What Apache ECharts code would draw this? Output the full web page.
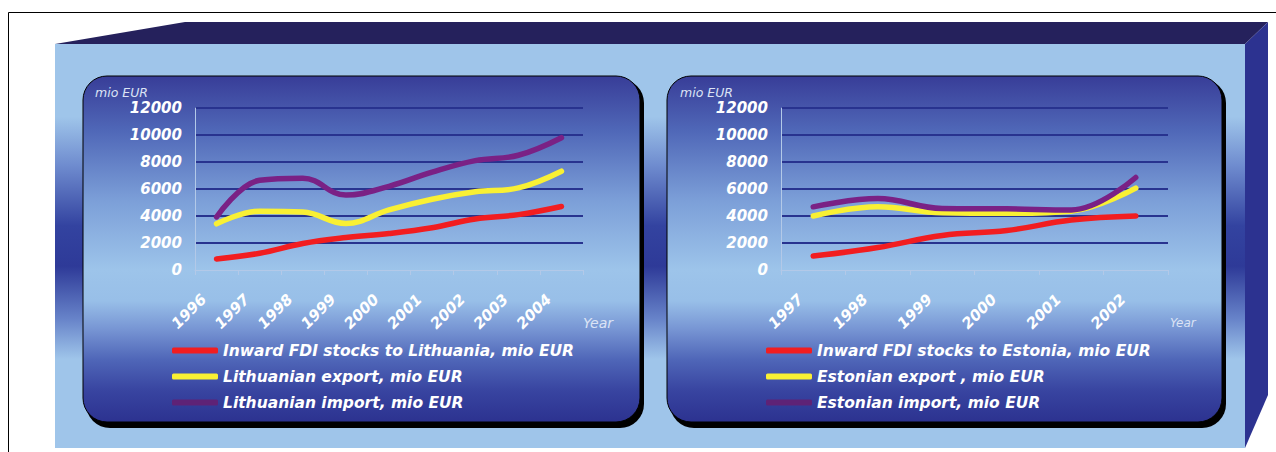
<!DOCTYPE html>
<html><head><meta charset="utf-8">
<script src="https://cdn.jsdelivr.net/npm/echarts@6/dist/echarts.min.js"></script>
<style>html,body{margin:0;padding:0;background:#fff}#c{width:1276px;height:452px}</style>
</head><body><div id="c"></div>
<script>
// ---- data (mio EUR) ----
const ltYears = ['1996','1997','1998','1999','2000','2001','2002','2003','2004'];
const ltFdi    = [820, 1240, 1960, 2400, 2700, 3130, 3780, 4100, 4700];
const ltExport = [3420, 4360, 4300, 3440, 4450, 5240, 5790, 6080, 7320];
const ltImport = [3930, 6650, 6800, 5550, 6200, 7250, 8100, 8500, 9800];
const eeYears = ['1997','1998','1999','2000','2001','2002'];
const eeFdi    = [1030, 1660, 2560, 2920, 3700, 4000];
const eeExport = [4000, 4680, 4240, 4200, 4360, 6060];
const eeImport = [4680, 5290, 4560, 4530, 4450, 6850];
const ltNames = ['Inward FDI stocks to Lithuania, mio EUR', 'Lithuanian export, mio EUR', 'Lithuanian import, mio EUR'];
const eeNames = ['Inward FDI stocks to Estonia, mio EUR', 'Estonian export , mio EUR', 'Estonian import, mio EUR'];
const yUnit = 'mio EUR';
const xUnit = 'Year';
const yMin = 0, yMax = 12000, yStep = 2000;

// ---- styles ----
const FONT = 'DejaVu Sans';
const lineColors = ['#f21d20', '#f9f034', '#7a2185'];
const legendColors = ['#f21d20', '#f9f034', '#5e2276'];
const gridColor = '#28338f';
const axisLight = '#b3c9e8';

const chart = echarts.init(document.getElementById('c'), null, {renderer: 'svg'});

function panelFill() {
  return new echarts.graphic.LinearGradient(0, 0, 0, 1, [
    {offset: 0, color: '#383d98'},
    {offset: 0.16, color: '#5068b8'},
    {offset: 0.36, color: '#7c9fd8'},
    {offset: 0.56, color: '#9dc4ea'},
    {offset: 0.65, color: '#98bfe8'},
    {offset: 0.73, color: '#7896d4'},
    {offset: 0.82, color: '#4f66b8'},
    {offset: 0.91, color: '#3844a0'},
    {offset: 1, color: '#2c3290'}
  ]);
}
function frontFill() {
  return new echarts.graphic.LinearGradient(0, 0, 0, 1, [
    {offset: 0, color: '#9fc5ea'},
    {offset: 0.18, color: '#9fc5ea'},
    {offset: 0.30, color: '#6f8ccf'},
    {offset: 0.45, color: '#3343a0'},
    {offset: 0.55, color: '#2e3a98'},
    {offset: 0.68, color: '#6783c9'},
    {offset: 0.78, color: '#9fc5ea'},
    {offset: 1, color: '#9fc5ea'}
  ]);
}

function xAxis(gi, data) {
  return {
    type: 'category', gridIndex: gi, data: data, boundaryGap: true,
    axisLine: {show: true, lineStyle: {color: axisLight, width: 1}},
    axisTick: {show: true, length: 5, lineStyle: {color: axisLight}},
    axisLabel: {interval: 0, rotate: 45, margin: 14, padding: [0, 18, 0, 0],
      color: '#ffffff', fontSize: 15, fontWeight: 'bold', fontStyle: 'italic', fontFamily: FONT},
    splitLine: {show: false}
  };
}
function yAxis(gi) {
  return {
    type: 'value', gridIndex: gi, min: yMin, max: yMax, interval: yStep,
    axisLine: {show: true, lineStyle: {color: axisLight, width: 1}},
    axisTick: {show: false},
    axisLabel: {margin: 13, color: '#ffffff', fontSize: 15, fontWeight: 'bold', fontStyle: 'italic', fontFamily: FONT,
      formatter: v => String(v)},
    splitLine: {show: true, lineStyle: {width: 2,
      color: ['rgba(0,0,0,0)', gridColor, gridColor, gridColor, gridColor, gridColor, gridColor]}}
  };
}
function legend(left, names) {
  return {
    left: left, top: 338, padding: 0, orient: 'vertical', itemWidth: 46, itemHeight: 6, itemGap: 1,
    icon: 'roundRect', selectedMode: false,
    textStyle: {color: '#ffffff', fontSize: 15.5, fontWeight: 'bold', fontStyle: 'italic', fontFamily: FONT, lineHeight: 25},
    data: names.map((n, i) => ({name: n, itemStyle: {color: legendColors[i]}}))
  };
}
function line(name, xi, data, ci) {
  return {
    name: name, type: 'line', xAxisIndex: xi, yAxisIndex: xi, data: data,
    smooth: 0.4, symbol: 'none', showSymbol: false,
    lineStyle: {color: lineColors[ci], width: 5.5, cap: 'round', join: 'round'},
    itemStyle: {color: lineColors[ci]}, emphasis: {disabled: true}, animation: false
  };
}
function label(x, y, text, size) {
  return {type: 'text', x: x, y: y, z: 10,
    style: {text: text, fill: '#dbe3f5', fontSize: size, fontStyle: 'italic', fontFamily: FONT,
      align: 'left', verticalAlign: 'middle'}};
}

const option = {
  backgroundColor: '#ffffff',
  animation: false,
  graphic: [
    {type: 'polygon', z: -20, shape: {points: [[55, 44], [185, 22], [1268, 22], [1245, 44]]}, style: {fill: '#25215c'}},
    {type: 'polygon', z: -20, shape: {points: [[1245, 44], [1268, 22], [1268, 395], [1245, 448]]}, style: {fill: '#2c3290'}},
    {type: 'rect', z: -20, shape: {x: 55, y: 44, width: 1190, height: 404}, style: {fill: frontFill()}},
    {type: 'polyline', z: -19, shape: {points: [[8.5, 452], [8.5, 12.5], [1276, 12.5]]}, style: {stroke: '#000', lineWidth: 1, fill: null}},
    {type: 'rect', z: -18, shape: {x: 86, y: 79, width: 558, height: 349, r: 24}, style: {fill: '#000'}},
    {type: 'rect', z: -17, shape: {x: 83, y: 76, width: 557, height: 346, r: 24}, style: {fill: panelFill(), stroke: '#000', lineWidth: 1}},
    {type: 'rect', z: -18, shape: {x: 670, y: 79, width: 556, height: 349, r: 24}, style: {fill: '#000'}},
    {type: 'rect', z: -17, shape: {x: 667, y: 76, width: 555, height: 346, r: 24}, style: {fill: panelFill(), stroke: '#000', lineWidth: 1}},
    label(95, 92, yUnit, 12.5),
    label(680, 92, yUnit, 12.5),
    label(583, 323, xUnit, 14),
    label(1170, 323, xUnit, 12)
  ],
  grid: [
    {left: 195, top: 108, width: 388, height: 162},
    {left: 781, top: 108, width: 387, height: 162}
  ],
  xAxis: [xAxis(0, ltYears), xAxis(1, eeYears)],
  yAxis: [yAxis(0), yAxis(1)],
  legend: [legend(172, ltNames), legend(766, eeNames)],
  series: [
    line(ltNames[0], 0, ltFdi, 0),
    line(ltNames[1], 0, ltExport, 1),
    line(ltNames[2], 0, ltImport, 2),
    line(eeNames[0], 1, eeFdi, 0),
    line(eeNames[1], 1, eeExport, 1),
    line(eeNames[2], 1, eeImport, 2)
  ]
};
chart.setOption(option);
</script>
</body></html>
